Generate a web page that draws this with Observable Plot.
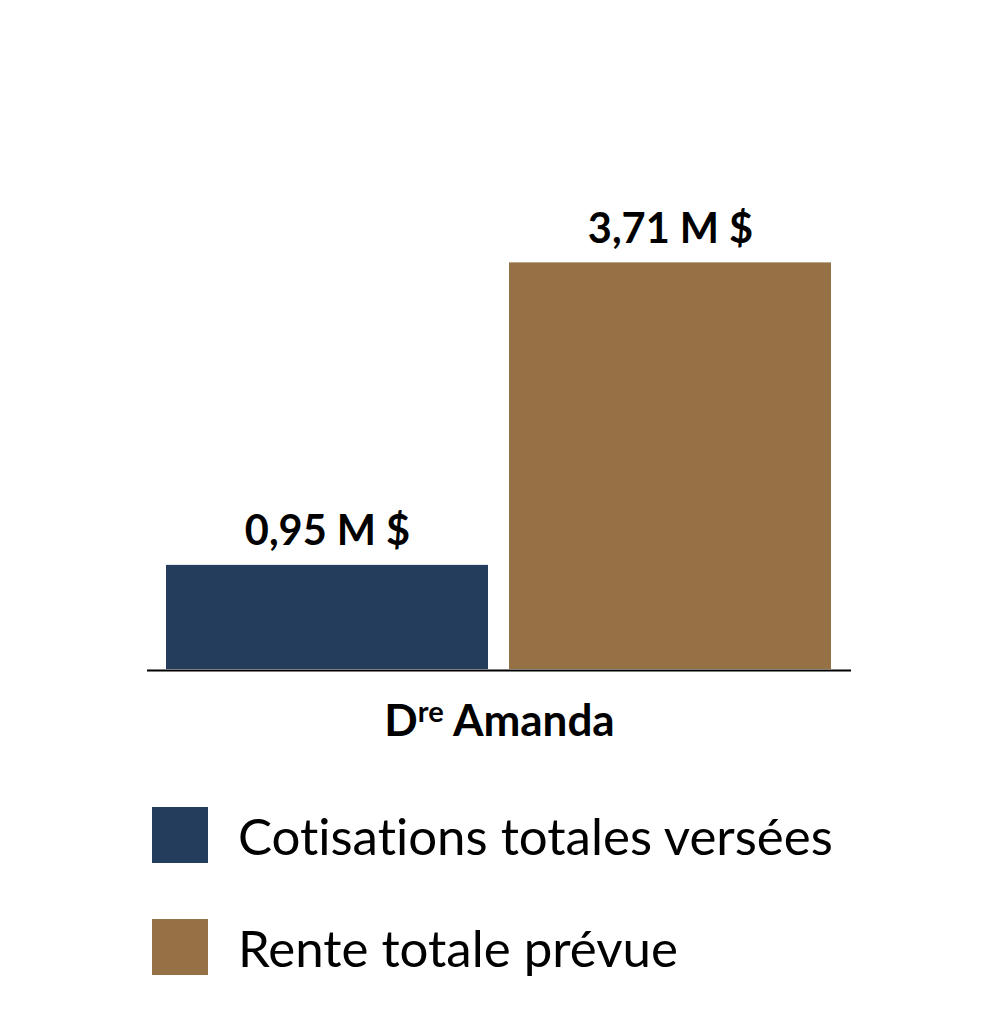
<!DOCTYPE html>
<html>
<head>
<meta charset="utf-8">
<script src="https://cdn.jsdelivr.net/npm/d3@7"></script>
<script src="https://cdn.jsdelivr.net/npm/@observablehq/plot@0.6"></script>
<style>
  body { margin: 0; background: #fff; font-family: Lato, "Noto Sans", sans-serif; font-variant-ligatures: none; }
  #chart svg { display: block; font-variant-ligatures: none; }
  #legend { padding-left: 152px; margin-top: 47px; }
  .item { display: flex; align-items: center; height: 56px; margin-bottom: 56px; }
  .sw { width: 56px; height: 56px; margin-right: 30px; flex: none; }
  .lab { font-size: 51px; color: #000; line-height: 1; white-space: nowrap; font-variant-ligatures: none; font-feature-settings: "liga" 0, "clig" 0; }
</style>
</head>
<body>
<div id="chart"></div>
<div id="legend"></div>
<script>
const person = "Dre Amanda";
const series = ["Cotisations totales versées", "Rente totale prévue"];
const values = [0.95, 3.71];
const valueLabels = ["0,95 M $", "3,71 M $"];
const colors = ["#243d5c", "#957145"];

const data = series.map((s, i) => ({person, series: s, value: values[i], label: valueLabels[i]}));

const plot = Plot.plot({
  width: 1000,
  height: 760,
  marginLeft: 147,
  marginRight: 149,
  marginTop: 230.6,
  marginBottom: 91,
  style: {fontFamily: "Lato, 'Noto Sans', sans-serif", background: "#fff", color: "#000"},
  fx: {domain: [person], padding: 0},
  x: {domain: series, paddingInner: 0.061, paddingOuter: 0.055, axis: null},
  y: {domain: [0, 4], axis: null},
  color: {domain: series, range: colors},
  marks: [
    Plot.barY(data, {fx: "person", x: "series", y: "value", fill: "series"}),
    Plot.ruleY([0], {stroke: "#000", strokeWidth: 2, dy: 1}),
    Plot.text(data, {fx: "person", x: "series", y: "value", text: "label", lineAnchor: "bottom", dy: -20, fontSize: 41.5, fontWeight: "bold", fill: "#000"}),
    Plot.axisFx({anchor: "bottom", tickSize: 0, tickPadding: 35, fontSize: 44, fontWeight: "bold", label: null, fill: "#000"})
  ]
});

// superscript "re" in the facet label
plot.querySelectorAll("text").forEach(t => {
  if (t.textContent === person) {
    const ns = "http://www.w3.org/2000/svg";
    while (t.firstChild) t.removeChild(t.firstChild);
    const a = document.createElementNS(ns, "tspan"); a.textContent = "D";
    const b = document.createElementNS(ns, "tspan"); b.textContent = "re";
    b.setAttribute("font-size", "29"); b.setAttribute("dy", "-14");
    const c = document.createElementNS(ns, "tspan"); c.textContent = "\u00a0Amanda";
    c.setAttribute("dy", "14");
    t.append(a, b, c);
  }
});

document.getElementById("chart").appendChild(plot);

const legend = document.getElementById("legend");
series.forEach((s, i) => {
  const item = document.createElement("div");
  item.className = "item";
  const sw = document.createElement("div");
  sw.className = "sw";
  sw.style.background = colors[i];
  const lab = document.createElement("div");
  lab.className = "lab";
  lab.textContent = s;
  item.append(sw, lab);
  legend.appendChild(item);
});
</script>
</body>
</html>
